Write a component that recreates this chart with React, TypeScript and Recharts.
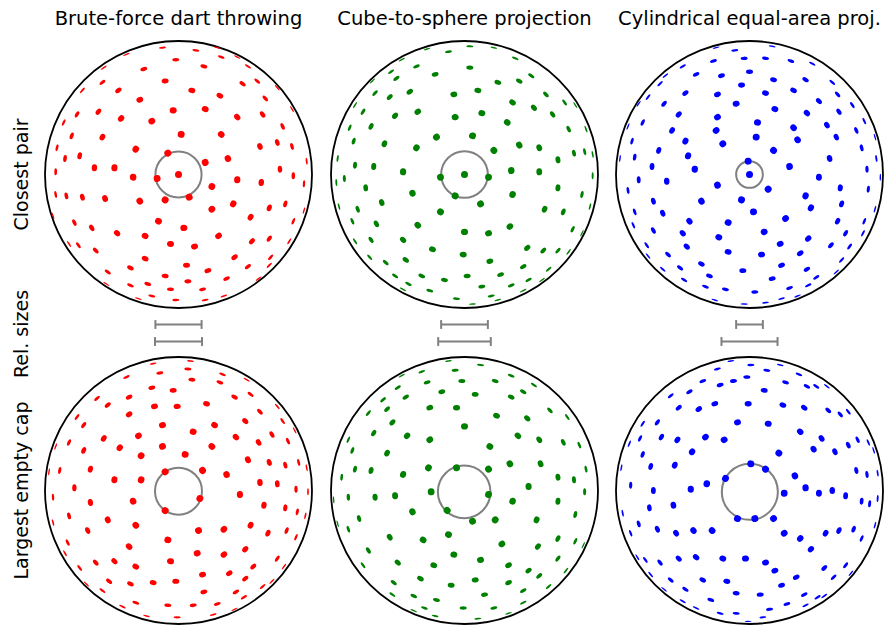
import React from 'react';
import { ScatterChart, Scatter, XAxis, YAxis, ReferenceDot, ReferenceLine } from 'recharts';

// Points are orthographic projections of the sphere samples,
// given as [x, y] in percent of the sphere radius (y up).
type Pt = [number, number];

const methods = ['Brute-force dart throwing', 'Cube-to-sphere projection', 'Cylindrical equal-area proj.'];
const rowLabels = ['Closest pair', 'Rel. sizes', 'Largest empty cap'];
const colors = ['#ff0000', '#008000', '#0000ff'];

const bruteClosest: Pt[] = [
  [-12, 95], [13, 93], [29, 95], [-39, 90], [44, 88], [-2, 86], [-26, 79], [19, 81], [32, 88], [-56, 80],
  [52, 81], [-10, 70], [48, 68], [59, 70], [-57, 69], [-72, 63], [-45, 63], [10, 63], [31, 59], [65, 57],
  [74, 65], [-29, 56], [-4, 48], [20, 49], [-60, 47], [-76, 45], [-43, 42], [-20, 40], [44, 43], [63, 45],
  [85, 49], [78, 36], [-86, 39], [-80, 29], [-57, 28], [2, 30], [32, 30], [74, 24], [85, 21], [-91, 20],
  [-32, 19], [-8, 16], [61, 21], [-85, 12], [-74, 14], [20, 9], [37, 12], [96, 10], [-63, 5], [-48, 5],
  [76, 4], [-92, 2], [-34, -2], [-16, -3], [0, 0], [25, -9], [44, -4], [62, -6], [86, -1], [94, -7],
  [-92, -15], [-84, -16], [-72, -17], [-55, -18], [-29, -20], [-10, -19], [8, -17], [41, -22], [25, -26], [68, -25],
  [80, -22], [94, -27], [-94, -31], [-78, -36], [-65, -40], [-15, -35], [4, -40], [54, -32], [86, -35], [-46, -44],
  [-25, -46], [30, -46], [55, -50], [68, -48], [83, -50], [-82, -52], [-75, -53], [-62, -57], [-6, -52], [12, -54],
  [42, -62], [-25, -63], [69, -62], [-36, -70], [6, -68], [22, -72], [52, -69], [68, -68], [-53, -73], [-10, -76],
  [36, -78], [-23, -82], [7, -80], [60, -78], [-36, -83], [-6, -86], [18, -86], [-20, -91], [-30, -93], [-2, -94],
  [20, -94], [34, -91], [-54, -82],
];

const cubeClosest: Pt[] = [
  [4, 96], [22, 95], [-12, 92], [-28, 94], [-47, 86], [4, 80], [-36, 81], [-22, 75], [25, 69], [41, 70],
  [38, 87], [50, 74], [-55, 77], [-51, 72], [-69, 70], [-8, 60], [10, 63], [36, 54], [61, 60], [-41, 62],
  [-56, 58], [-67, 61], [75, 54], [52, 50], [13, 46], [-7, 43], [-35, 47], [-52, 44], [-76, 47], [-82, 52],
  [32, 39], [66, 45], [83, 52], [-70, 36], [78, 34], [-86, 35], [91, 34], [6, 29], [-21, 28], [-83, 25],
  [-60, 23], [-36, 20], [41, 22], [56, 20], [22, 18], [82, 16], [90, 17], [70, 11], [-95, 12], [-82, 7],
  [-68, 6], [-46, 2], [-18, -2], [0, 0], [18, -2], [35, 3], [56, 2], [96, 15], [96, -1], [-90, -3],
  [-96, -6], [-74, -10], [-39, -14], [-7, -16], [36, -15], [70, -10], [88, -15], [-62, -21], [12, -22], [-18, -28],
  [60, -26], [74, -28], [94, -24], [-80, -26], [-94, -24], [-84, -35], [-66, -37], [-35, -38], [34, -39], [0, -43],
  [18, -44], [81, -41], [88, -44], [-70, -49], [-46, -49], [-24, -56], [-1, -60], [47, -55], [59, -57], [70, -57],
  [78, -58], [-82, -50], [-71, -62], [-59, -66], [-44, -64], [19, -65], [44, -69], [63, -71], [-52, -76], [-32, -76],
  [-15, -79], [2, -76], [27, -75], [48, -79], [58, -79], [-42, -82], [13, -84], [35, -83], [-26, -87], [-6, -93],
  [20, -91], [44, -87], [-46, -86], [6, -97], [25, -94],
];

const cylClosest: Pt[] = [
  [-25, 95], [-11, 93], [17, 96], [12, 87], [-4, 87], [-27, 85], [31, 85], [47, 83], [-50, 81], [-40, 75],
  [-21, 74], [0, 77], [18, 71], [42, 71], [62, 69], [-6, 67], [-63, 74], [-67, 68], [33, 63], [12, 61],
  [-24, 60], [-48, 61], [52, 55], [66, 60], [-76, 58], [-64, 53], [-10, 53], [19, 49], [43, 46], [67, 47],
  [77, 52], [-83, 53], [-53, 45], [-24, 43], [6, 39], [33, 35], [58, 37], [86, 40], [-80, 39], [-58, 33],
  [-25, 33], [5, 28], [36, 26], [65, 28], [80, 33], [94, 28], [-91, 36], [-88, 25], [-48, 25], [-20, 23],
  [18, 18], [84, 20], [-68, 18], [-86, 13], [-46, 14], [-1, 10], [60, 12], [95, 12], [-97, 12], [-73, 6],
  [-41, 4], [30, 6], [88, 4], [0, 0], [98, -2], [-83, -4], [-62, -5], [-24, -8], [14, -11], [52, -2],
  [68, -10], [-91, -12], [89, -11], [-36, -20], [-6, -19], [42, -16], [69, -22], [-72, -20], [-65, -29], [3, -28],
  [27, -33], [46, -25], [94, -26], [-86, -28], [-45, -35], [-16, -36], [66, -35], [86, -35], [-87, -38], [-72, -42],
  [-50, -44], [-23, -47], [11, -43], [44, -48], [72, -44], [85, -44], [-77, -53], [-47, -54], [-16, -58], [9, -60],
  [23, -52], [38, -59], [61, -53], [75, -54], [-61, -60], [-36, -67], [-5, -72], [24, -68], [43, -71], [69, -64],
  [-76, -61], [-52, -70], [-49, -79], [-30, -76], [17, -78], [50, -77], [65, -73], [-65, -71], [-33, -84], [-18, -86],
  [4, -88], [30, -85], [44, -83], [-26, -94], [-4, -97], [12, -96], [24, -93], [36, -91],
];

const bruteCap: Pt[] = [
  [9, 97], [7, 91], [-14, 88], [-19, 95], [-39, 85], [10, 83], [33, 87], [31, 81], [51, 83], [-20, 77],
  [-4, 75], [-61, 69], [-37, 70], [42, 70], [54, 72], [21, 65], [-53, 64], [-18, 63], [-1, 63], [74, 63],
  [-76, 55], [-37, 57], [61, 59], [50, 52], [78, 52], [-71, 49], [-12, 49], [27, 49], [87, 45], [-30, 41],
  [11, 44], [43, 40], [70, 42], [-56, 39], [-82, 36], [-92, 33], [-12, 33], [25, 33], [60, 36], [82, 37],
  [-44, 32], [-71, 30], [-28, 26], [5, 27], [52, 23], [68, 21], [80, 19], [90, 21], [-89, 15], [-66, 16],
  [-10, 14], [18, 15], [36, 12], [-48, 8], [-28, 8], [61, 6], [74, 5], [96, 17], [-97, 14], [-78, 2],
  [46, -3], [16, -6], [88, 1], [97, -1], [-66, -9], [-34, -8], [-10, -15], [-94, -5], [64, -11], [80, -13],
  [89, -16], [-82, -19], [-53, -22], [-32, -26], [15, -30], [34, -29], [54, -26], [67, -32], [81, -30], [95, -19],
  [-94, -24], [-68, -30], [-8, -37], [-37, -42], [14, -47], [34, -48], [50, -44], [88, -35], [-83, -39], [-85, -47],
  [-62, -54], [-48, -53], [-32, -57], [-6, -53], [74, -51], [56, -57], [-74, -58], [18, -63], [38, -62], [79, -57],
  [-52, -68], [-36, -70], [-19, -69], [-2, -68], [50, -66], [63, -72], [-69, -70], [-57, -75], [19, -76], [43, -76],
  [70, -68], [-32, -84], [-8, -86], [11, -86], [29, -85], [49, -80], [-42, -87], [-24, -94], [-1, -95], [26, -93],
  [42, -89],
];

const cubeCap: Pt[] = [
  [-12, 97], [12, 94], [-7, 90], [-32, 89], [-47, 86], [23, 82], [-2, 82], [35, 86], [-28, 81], [-17, 74],
  [-50, 77], [8, 72], [44, 74], [52, 79], [-44, 70], [35, 70], [-61, 68], [-26, 62], [-6, 62], [64, 60],
  [24, 56], [47, 54], [-58, 61], [-72, 58], [-54, 51], [0, 48], [77, 55], [-68, 43], [-43, 41], [-26, 38],
  [40, 41], [56, 38], [74, 36], [-87, 38], [86, 34], [19, 33], [-58, 28], [-84, 30], [34, 20], [57, 20],
  [-27, 17], [-6, 17], [18, 16], [91, 16], [-70, 15], [-82, 16], [70, 10], [82, 8], [-46, 12], [-92, 10],
  [48, 3], [-25, -1], [18, -3], [90, -1], [-87, -5], [-67, -5], [-52, -4], [36, -8], [70, -8], [-98, -7],
  [-39, -16], [-13, -15], [6, -23], [23, -22], [54, -22], [83, -18], [-79, -21], [-87, -29], [-56, -35], [-31, -37],
  [-12, -33], [28, -40], [55, -42], [70, -36], [83, -38], [-95, -25], [-72, -45], [-8, -48], [12, -52], [33, -56],
  [48, -60], [70, -51], [89, -41], [-50, -54], [-23, -56], [-76, -56], [-33, -66], [-10, -71], [8, -67], [33, -69],
  [56, -64], [-53, -69], [76, -60], [-38, -79], [-21, -82], [15, -78], [44, -75], [63, -72], [-54, -78], [-1, -88],
  [22, -88], [44, -84], [-30, -88], [-22, -94], [10, -96], [33, -92], [-38, -90],
];

const cylCap: Pt[] = [
  [-14, 97], [1, 94], [23, 94], [-24, 91], [13, 90], [37, 87], [-2, 85], [-12, 82], [-35, 82], [27, 81],
  [43, 78], [50, 78], [-22, 79], [11, 75], [-45, 74], [58, 78], [-59, 71], [-1, 65], [25, 64], [-26, 65],
  [41, 62], [59, 60], [-53, 62], [-38, 61], [68, 57], [74, 59], [-69, 51], [-9, 51], [14, 50], [38, 44],
  [54, 39], [81, 38], [-80, 50], [-82, 39], [-66, 40], [-54, 38], [-33, 40], [-19, 38], [-90, 35], [89, 36],
  [74, 34], [48, 31], [64, 29], [-43, 29], [22, 28], [-80, 27], [93, 30], [1, 20], [12, 16], [-74, 18],
  [-56, 19], [-18, 9], [34, 11], [80, 15], [88, 12], [96, 13], [-96, 17], [-89, 4], [-72, 0], [-44, 1],
  [-32, 5], [26, -2], [42, 2], [52, -2], [62, 0], [72, -4], [84, -8], [90, -10], [96, -6], [-75, -13],
  [-57, -11], [-95, -17], [-83, -25], [-89, -32], [-9, -21], [4, -21], [18, -21], [-69, -29], [-55, -32], [-42, -30],
  [-28, -30], [26, -32], [38, -36], [57, -32], [67, -30], [78, -29], [84, -36], [94, -26], [46, -44], [-84, -50],
  [-78, -52], [-67, -54], [-53, -51], [-40, -50], [-20, -51], [-3, -51], [12, -54], [19, -60], [35, -65], [56, -58],
  [72, -56], [63, -65], [76, -62], [-74, -63], [-59, -67], [-35, -67], [-17, -68], [24, -71], [-64, -74], [-48, -74],
  [-10, -77], [8, -78], [41, -78], [51, -80], [-29, -82], [28, -85], [-50, -83], [-40, -88], [-22, -92], [-10, -92],
  [10, -95], [15, -89], [-1, -98], [42, -86], [56, -79],
];

// highlighted caps: centre and radius in percent of the sphere radius
const closestCaps = [
  { x: 0, y: 0, r: 17.3 },
  { x: 0, y: 0, r: 17.5 },
  { x: 0, y: 0, r: 10 },
];
const emptyCaps = [
  { x: 0, y: -0.5, r: 17.6 },
  { x: -0.25, y: -1, r: 19.7 },
  { x: 0.25, y: -1, r: 21 },
];

const closestRows = [bruteClosest, cubeClosest, cylClosest];
const capRows = [bruteCap, cubeCap, cylCap];

const PLOT = 267;
const PAD = 2;
const SIZE = PLOT + PAD * 2;
const R = PLOT / 2;
const colX = [178.5, 464.5, 749.5];
const rowY = [174.5, 490.5];
const FONT = '"DejaVu Sans", Verdana, sans-serif';

// dots foreshortened towards the limb of the sphere
const makeDot = (fill: string) => (props: any) => {
  const { cx, cy, payload } = props;
  if (cx == null || cy == null) return <g />;
  const rr = Math.min(Math.hypot(payload.x, payload.y) / 100, 0.995);
  const major = 3.5;
  const minor = Math.max(major * Math.sqrt(1 - rr * rr), 0.7);
  const ang = (Math.atan2(-payload.y, payload.x) * 180) / Math.PI;
  return (
    <ellipse cx={cx} cy={cy} rx={minor} ry={major} fill={fill}
      transform={`rotate(${ang} ${cx} ${cy})`} />
  );
};

// grey ring for the cap, sized in data units
const capRing = (props: any) => {
  const { cx, cy, payload } = props;
  if (cx == null || cy == null) return <g />;
  return <circle cx={cx} cy={cy} r={(payload.r * R) / 100} fill="none" stroke="#808080" strokeWidth={2} />;
};

function Sphere({ points, color, cap, left, top }: {
  points: Pt[]; color: string; cap: { x: number; y: number; r: number }; left: number; top: number;
}) {
  const data = points.map(([x, y]) => ({ x, y }));
  return (
    <div style={{ position: 'absolute', left, top }}>
      <ScatterChart width={SIZE} height={SIZE} margin={{ top: PAD, right: PAD, bottom: PAD, left: PAD }}>
        <XAxis type="number" dataKey="x" domain={[-100, 100]} hide />
        <YAxis type="number" dataKey="y" domain={[-100, 100]} hide />
        <ReferenceDot x={0} y={0} r={R} fill="none" stroke="#000" strokeWidth={1.8} />
        <Scatter data={[cap]} shape={capRing} isAnimationActive={false} />
        <Scatter data={data} shape={makeDot(color)} isAnimationActive={false} />
      </ScatterChart>
    </div>
  );
}

// two scale bars: closest-pair cap (top) and largest empty cap (bottom)
function RelSizes({ top, bottom, left }: { top: number; bottom: number; left: number }) {
  const rows = [
    { y: 1, r: top },
    { y: 0, r: bottom },
  ];
  const tick = 0.26;
  return (
    <div style={{ position: 'absolute', left, top: 316 }}>
      <ScatterChart width={SIZE} height={34} margin={{ top: 0, right: PAD, bottom: 0, left: PAD }}>
        <XAxis type="number" dataKey="x" domain={[-100, 100]} hide />
        <YAxis type="number" dataKey="y" domain={[-0.5, 1.5]} hide />
        <Scatter data={rows.map((d) => ({ x: 0, y: d.y }))} shape={() => <g />} isAnimationActive={false} />
        {rows.map((d) => (
          <ReferenceLine key={`h${d.y}`} segment={[{ x: -d.r, y: d.y }, { x: d.r, y: d.y }]}
            stroke="#808080" strokeWidth={2} ifOverflow="visible" />
        ))}
        {rows.map((d) => (
          <ReferenceLine key={`l${d.y}`} segment={[{ x: -d.r, y: d.y - tick }, { x: -d.r, y: d.y + tick }]}
            stroke="#808080" strokeWidth={2} ifOverflow="visible" />
        ))}
        {rows.map((d) => (
          <ReferenceLine key={`r${d.y}`} segment={[{ x: d.r, y: d.y - tick }, { x: d.r, y: d.y + tick }]}
            stroke="#808080" strokeWidth={2} ifOverflow="visible" />
        ))}
      </ScatterChart>
    </div>
  );
}

export default function App() {
  const labelY = [rowY[0], 334, rowY[1]];
  return (
    <div style={{ position: 'absolute', left: 0, top: 0, width: 885, height: 627, background: '#fff' }}>
      {methods.map((m, i) => (
        <React.Fragment key={m}>
          <Sphere points={closestRows[i]} color={colors[i]} cap={closestCaps[i]}
            left={colX[i] - SIZE / 2} top={rowY[0] - SIZE / 2} />
          <RelSizes top={closestCaps[i].r} bottom={emptyCaps[i].r} left={colX[i] - SIZE / 2} />
          <Sphere points={capRows[i]} color={colors[i]} cap={emptyCaps[i]}
            left={colX[i] - SIZE / 2} top={rowY[1] - SIZE / 2} />
        </React.Fragment>
      ))}
      <svg width={885} height={627} style={{ position: 'absolute', left: 0, top: 0, pointerEvents: 'none' }}>
        {methods.map((m, i) => (
          <text key={m} x={colX[i]} y={24.5} textAnchor="middle" fontFamily={FONT} fontSize={19.5} fill="#000">
            {m}
          </text>
        ))}
        {rowLabels.map((l, i) => (
          <text key={l} x={0} y={0} textAnchor="middle" fontFamily={FONT} fontSize={19} fill="#000"
            transform={`translate(28 ${labelY[i]}) rotate(-90)`}>
            {l}
          </text>
        ))}
      </svg>
    </div>
  );
}
